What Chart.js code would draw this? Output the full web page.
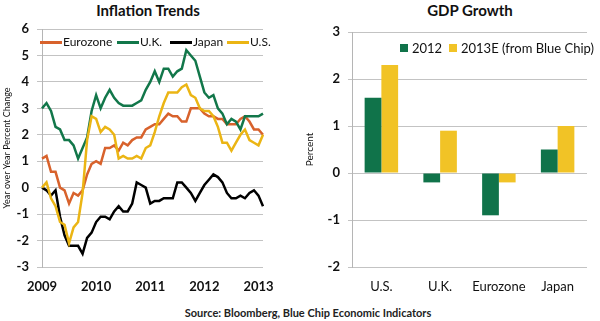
<!DOCTYPE html>
<html>
<head>
<meta charset="utf-8">
<script src="https://cdn.jsdelivr.net/npm/chart.js@4.4.1/dist/chart.umd.min.js"></script>
<style>
body{margin:0;width:600px;height:321px;background:#fff;position:relative;overflow:hidden;font-family:Lato,"Open Sans",sans-serif;color:#111}
.box{position:absolute;top:0;width:300px;height:300px}
.title{position:absolute;top:1px;font-weight:bold;font-size:15px;text-align:center;line-height:18px}
.leg{position:absolute;font-size:12px;white-space:nowrap;display:flex;align-items:center;line-height:14px}
.line{display:inline-block;width:22px;height:3px;margin-right:1px}
.sq{display:inline-block;width:8px;height:8px;margin-right:4px}
.src{position:absolute;top:306px;left:0;width:616px;text-align:center;font-size:11px;font-weight:bold;color:#222}
</style>
</head>
<body>
<div class="title" style="left:0;width:296px">Inflation Trends</div>
<div class="title" style="left:300px;width:340px">GDP Growth</div>
<div class="box" style="left:0"><canvas id="infl" width="300" height="300"></canvas></div>
<div class="box" style="left:300px"><canvas id="gdp" width="300" height="300"></canvas></div>

<div class="leg" style="left:40px;top:35px"><span class="line" style="background:#d8622c"></span>Eurozone</div>
<div class="leg" style="left:117px;top:35px"><span class="line" style="background:#12774a"></span>U.K.</div>
<div class="leg" style="left:170px;top:35px"><span class="line" style="background:#000"></span>Japan</div>
<div class="leg" style="left:227px;top:35px"><span class="line" style="background:#ebb514"></span>U.S.</div>

<div class="leg" style="left:400px;top:41px;font-size:13px"><span class="sq" style="background:#10734a"></span>2012</div>
<div class="leg" style="left:449px;top:41px;font-size:13px"><span class="sq" style="background:#f1c326"></span>2013E (from Blue Chip)</div>

<div class="src">Source: Bloomberg, Blue Chip Economic Indicators</div>

<script>
const ORANGE = '#d8622c';
const GREEN = '#12774a';
const YELLOW = '#ebb514';
const BAR_GREEN = '#10734a';
const BAR_YELLOW = '#f1c326';
const FONT = 'Lato, "Open Sans", sans-serif';

/* INFLATION DATA (monthly, Jan 2009 - Feb 2013) */
const months = [
  'Jan 09','Feb 09','Mar 09','Apr 09','May 09','Jun 09','Jul 09','Aug 09','Sep 09','Oct 09','Nov 09','Dec 09',
  'Jan 10','Feb 10','Mar 10','Apr 10','May 10','Jun 10','Jul 10','Aug 10','Sep 10','Oct 10','Nov 10','Dec 10',
  'Jan 11','Feb 11','Mar 11','Apr 11','May 11','Jun 11','Jul 11','Aug 11','Sep 11','Oct 11','Nov 11','Dec 11',
  'Jan 12','Feb 12','Mar 12','Apr 12','May 12','Jun 12','Jul 12','Aug 12','Sep 12','Oct 12','Nov 12','Dec 12',
  'Jan 13','Feb 13'
];
const yearTicks = ['2009','2010','2011','2012','2013'];

const eurozone = [1.1,1.2,0.6,0.6,0.0,-0.1,-0.6,-0.2,-0.3,-0.1,0.5,0.9,
  1.0,0.9,1.5,1.5,1.6,1.4,1.7,1.6,1.8,1.9,1.9,2.2,
  2.3,2.4,2.4,2.6,2.8,2.7,2.7,2.5,2.5,3.0,3.0,3.0,
  2.8,2.7,2.7,2.6,2.6,2.4,2.4,2.4,2.6,2.7,2.5,2.2,
  2.2,2.0];
const uk = [3.0,3.2,2.9,2.3,2.2,1.8,1.8,1.6,1.1,1.5,1.9,2.9,
  3.5,3.0,3.4,3.7,3.4,3.2,3.1,3.1,3.1,3.2,3.3,3.7,
  4.0,4.4,4.0,4.5,4.5,4.2,4.4,4.5,5.2,5.0,4.8,4.2,
  3.6,3.4,3.5,3.0,2.8,2.4,2.6,2.5,2.2,2.7,2.7,2.7,
  2.7,2.8];
const japan = [0.0,-0.1,-0.3,-0.1,-1.1,-1.8,-2.2,-2.2,-2.2,-2.5,-1.9,-1.7,
  -1.3,-1.1,-1.1,-1.2,-0.9,-0.7,-0.9,-0.9,-0.6,0.2,0.1,0.0,
  -0.6,-0.5,-0.5,-0.4,-0.4,-0.4,0.2,0.2,0.0,-0.2,-0.5,-0.2,
  0.1,0.3,0.5,0.4,0.2,-0.2,-0.4,-0.4,-0.3,-0.4,-0.2,-0.1,
  -0.3,-0.7];
const us = [0.0,0.2,-0.4,-0.7,-1.3,-1.4,-2.1,-1.5,-1.3,-0.2,1.8,2.7,
  2.6,2.1,2.3,2.2,2.0,1.1,1.2,1.1,1.1,1.2,1.1,1.5,
  1.6,2.1,2.7,3.2,3.6,3.6,3.6,3.8,3.9,3.5,3.4,3.0,
  2.9,2.9,2.7,2.3,1.7,1.7,1.4,1.7,2.0,2.2,1.8,1.7,
  1.6,2.0];

/* GDP DATA */
const countries = ['U.S.','U.K.','Eurozone','Japan'];
const gdp2012 = [1.6,-0.2,-0.9,0.5];
const gdp2013 = [2.3,0.9,-0.2,1.0];

const GRID = '#c3c3c3';
const tickFont = {family:FONT,size:13,weight:'bold'};

new Chart(document.getElementById('infl'),{
  type:'line',
  data:{
    labels:months,
    datasets:[
      {label:'Eurozone',data:eurozone,borderColor:ORANGE,order:3},
      {label:'U.K.',data:uk,borderColor:GREEN,order:2},
      {label:'Japan',data:japan,borderColor:'#000',order:1},
      {label:'U.S.',data:us,borderColor:YELLOW,order:0}
    ]
  },
  options:{
    responsive:false,
    animation:false,
    layout:{padding:{top:29,right:37,left:0,bottom:0}},
    elements:{line:{borderWidth:2.5,tension:0},point:{radius:0}},
    plugins:{legend:{display:false},tooltip:{enabled:false}},
    scales:{
      x:{
        grid:{display:false,drawTicks:false},
        border:{display:false},
        ticks:{autoSkip:false,maxRotation:0,padding:12,color:'#111',font:tickFont,
          callback:(v,i)=> i%12===0 ? yearTicks[i/12] : ''},
        afterFit:s=>{s.height=33;}
      },
      y:{
        min:-3,max:6,
        ticks:{stepSize:1,padding:8,color:'#111',font:tickFont},
        grid:{color:GRID,tickLength:5},
        border:{color:'#b5b5b5'},
        title:{display:true,text:'Year over Year Percent Change',color:'#111',
          font:{family:FONT,size:9},padding:{top:2,bottom:2}},
        afterFit:s=>{s.width=42;}
      }
    }
  }
});

new Chart(document.getElementById('gdp'),{
  type:'bar',
  data:{
    labels:countries,
    datasets:[
      {label:'2012',data:gdp2012,backgroundColor:BAR_GREEN},
      {label:'2013E (from Blue Chip)',data:gdp2013,backgroundColor:BAR_YELLOW}
    ]
  },
  options:{
    responsive:false,
    animation:false,
    layout:{padding:{top:32,right:13,left:0,bottom:0}},
    datasets:{bar:{categoryPercentage:0.57,barPercentage:1}},
    plugins:{legend:{display:false},tooltip:{enabled:false}},
    scales:{
      x:{
        grid:{display:false,drawTicks:false},
        border:{display:false},
        ticks:{autoSkip:false,maxRotation:0,minRotation:0,padding:12,color:'#111',font:{family:FONT,size:13}},
        afterFit:s=>{s.height=33;}
      },
      y:{
        min:-2,max:3,
        ticks:{stepSize:1,padding:8,color:'#111',font:tickFont},
        grid:{color:GRID,tickLength:4},
        border:{color:'#b5b5b5'},
        title:{display:true,text:'Percent',color:'#111',
          font:{family:FONT,size:10},padding:{top:4,bottom:2}},
        afterFit:s=>{s.width=52;}
      }
    }
  }
});
</script>
</body>
</html>
